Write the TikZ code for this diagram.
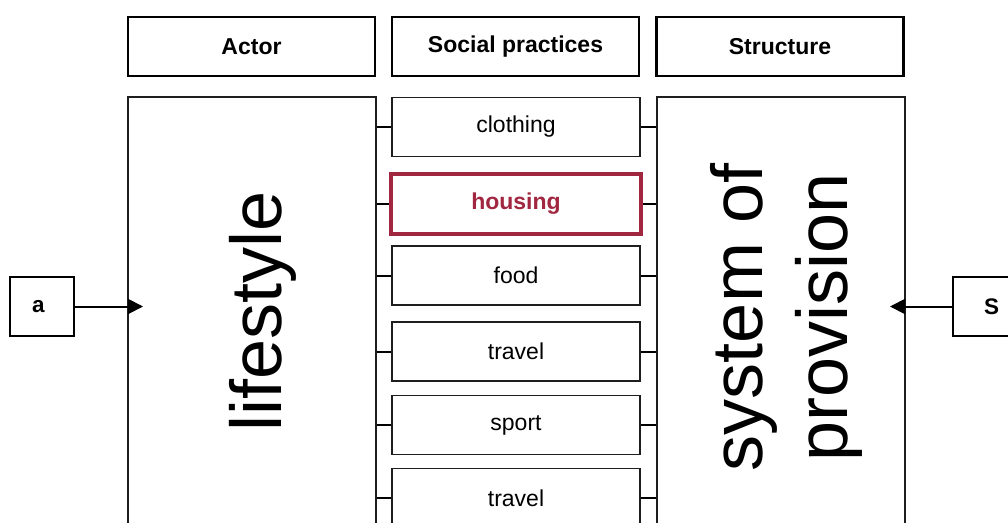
\documentclass[tikz,border=0pt]{standalone}
\usepackage{fontspec}
\setmainfont{Liberation Sans}
\usetikzlibrary{arrows.meta}
\definecolor{hred}{RGB}{161,38,64}
\definecolor{boxline}{RGB}{30,30,30}
\begin{document}
\begin{tikzpicture}[x=1pt,y=-1pt,
  hdr/.style={draw=black, line width=2.6pt, minimum width=247pt, minimum height=59pt, inner sep=0pt,
    font=\fontsize{23}{27}\selectfont\bfseries},
  big/.style={draw=boxline, line width=1.7pt, minimum width=248pt, minimum height=463pt, inner sep=0pt},
  item/.style={draw=boxline, line width=1.7pt, minimum width=248pt, minimum height=59pt, inner sep=0pt,
    font=\fontsize{23}{27}\selectfont},
  hitem/.style={draw=hred, line width=4pt, text=hred, minimum width=250pt, minimum height=60pt, inner sep=0pt,
    font=\fontsize{23}{27}\selectfont\bfseries},
  side/.style={draw=black, line width=2.6pt, minimum height=59pt, inner sep=0pt,
    font=\fontsize{22.5}{27}\selectfont\bfseries},
  bigtext/.style={rotate=90, inner sep=0pt, font=\fontsize{72}{85}\selectfont},
  conn/.style={draw=black, line width=2pt},
  arr/.style={draw=black, line width=2pt, -{Triangle[length=15pt,width=15pt]}}
]
\useasboundingbox (0,0) rectangle (1008,522);
\clip (0,0) rectangle (1008,522);

% headers
\node[hdr] (actor) at (251.5,46.5) {Actor};
\node[hdr] (social) at (515.5,46.5) {Social practices};
\node[hdr] (structure) at (780,46.5) {Structure};

% big boxes
\node[big] (life) at (252,328.5) {};
\node[big] (sys) at (781,328.5) {};
\node[bigtext] (lifetext) at (263,311.5) {lifestyle};
\node[bigtext, align=center] (soptext) at (786,317) {system of\\provision};

% practices
\node[item] (clothing) at (516,127) {clothing};
\node[hitem] (housing) at (516,204) {housing};
\node[item] (food) at (516,275.5) {food};
\node[item] (travel) at (516,351.5) {travel};
\node[item] (sport) at (516,425) {sport};
\node[item] (travelb) at (516,498) {travel};

% connectors
\foreach \n in {clothing,housing,food,travel,sport,travelb}{
  \draw[conn] (life.east |- \n.west) -- (\n.west);
  \draw[conn] (\n.east) -- (sys.west |- \n.east);
}

% side boxes
\node[side, minimum width=64pt] (a) at (42,306.5) {a\kern7pt};
\node[side, minimum width=77pt] (s) at (991.5,306.5) {S};
\coordinate (atip) at (143,306.5);
\coordinate (stip) at (890,306.5);
\draw[arr] (a.east) -- (atip);
\draw[arr] (s.west) -- (stip);
\end{tikzpicture}
\end{document}
